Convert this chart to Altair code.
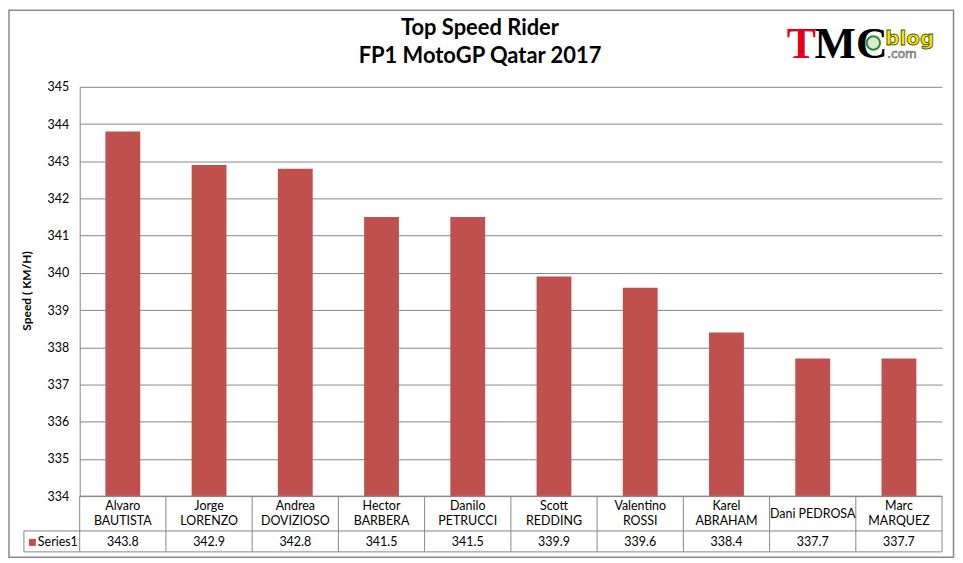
import altair as alt
import pandas as pd

riders = ["Alvaro\nBAUTISTA", "Jorge\nLORENZO", "Andrea\nDOVIZIOSO", "Hector\nBARBERA",
          "Danilo\nPETRUCCI", "Scott\nREDDING", "Valentino\nROSSI", "Karel\nABRAHAM",
          "Dani PEDROSA", "Marc\nMARQUEZ"]
speeds = [343.8, 342.9, 342.8, 341.5, 341.5, 339.9, 339.6, 338.4, 337.7, 337.7]
y_ticks = list(range(334, 346))
series_name = "Series1"
title_lines = ["Top Speed Rider", "FP1 MotoGP Qatar 2017"]
y_title = "Speed ( KM/H)"

W, H = 866, 411
FONT = "Lato"
BAR = "#C0504D"
LINE = "#868686"

df = pd.DataFrame({"rider": riders, "speed": speeds})
one = pd.DataFrame({"k": [0]})

xscale = alt.Scale(paddingInner=0, paddingOuter=0)
base = alt.Chart(df)

bars = base.mark_bar(color=BAR, width=alt.RelativeBandSize(0.404)).encode(
    x=alt.X("rider:N", sort=riders, scale=xscale, axis=None),
    y=alt.Y("speed:Q", scale=alt.Scale(domain=[334, 345], zero=False, nice=False),
            axis=alt.Axis(values=y_ticks, title=None, ticks=False, domainColor=LINE,
                          gridColor=LINE, labelFont=FONT, labelFontSize=12.5,
                          labelColor="#000", labelPadding=11, format="d")),
    y2=alt.datum(334),
)

vlines = base.mark_rule(color=LINE).encode(
    x=alt.X("rider:N", sort=riders, bandPosition=0, axis=None),
    y=alt.value(H), y2=alt.value(467),
)

cat_multi = base.transform_filter("indexof(datum.rider, '\\n') >= 0").mark_text(
    font=FONT, fontSize=12.5, lineBreak="\n", baseline="middle", lineHeight=15.5, color="#000"
).encode(
    x=alt.X("rider:N", sort=riders, axis=None),
    y=alt.value(421),
    text="rider:N",
)
cat_single = base.transform_filter("indexof(datum.rider, '\\n') < 0").mark_text(
    font=FONT, fontSize=12.5, baseline="middle", color="#000"
).encode(
    x=alt.X("rider:N", sort=riders, axis=None),
    y=alt.value(428.5),
    text="rider:N",
)

val_text = base.mark_text(font=FONT, fontSize=12.5, baseline="middle", color="#000").encode(
    x=alt.X("rider:N", sort=riders, axis=None),
    y=alt.value(457),
    text=alt.Text("speed:Q", format=".1f"),
)

o = alt.Chart(one)
rule_right = o.mark_rule(color=LINE).encode(x=alt.value(W), y=alt.value(H), y2=alt.value(467))
rule_leg = o.mark_rule(color=LINE).encode(x=alt.value(-56), y=alt.value(446), y2=alt.value(467))
rule_h1 = o.mark_rule(color=LINE).encode(x=alt.value(-56), x2=alt.value(W), y=alt.value(446))
rule_h2 = o.mark_rule(color=LINE).encode(x=alt.value(-56), x2=alt.value(W), y=alt.value(467))
rule_h0 = o.mark_rule(color=LINE).encode(x=alt.value(0), x2=alt.value(W), y=alt.value(H))

leg_sq = o.mark_square(color=BAR, size=49, opacity=1).encode(x=alt.value(-47.5), y=alt.value(457.5))
leg_txt = o.mark_text(font=FONT, fontSize=12.5, align="left", baseline="middle", color="#000").encode(
    x=alt.value(-42), y=alt.value(457), text=alt.value(series_name))

t1 = o.mark_text(font=FONT, fontSize=22, fontWeight="bold", baseline="middle", color="#000").encode(
    x=alt.value(402), y=alt.value(-59), text=alt.value(title_lines[0]))
t2 = o.mark_text(font=FONT, fontSize=22, fontWeight="bold", baseline="middle", color="#000").encode(
    x=alt.value(402), y=alt.value(-31), text=alt.value(title_lines[1]))
ytitle = o.mark_text(font=FONT, fontSize=12, fontWeight="bold", baseline="middle", angle=270,
                     color="#000").encode(x=alt.value(-53), y=alt.value(205), text=alt.value(y_title))

logo_T = o.mark_text(font="Liberation Serif", fontSize=44, fontWeight="bold", align="left",
                     baseline="alphabetic", color="#E3001B").encode(
    x=alt.value(710), y=alt.value(-29), text=alt.value("T"))
logo_MC = o.mark_text(font="Liberation Serif", fontSize=44, fontWeight="bold", align="left",
                      baseline="alphabetic", color="#000").encode(
    x=alt.value(738), y=alt.value(-29), text=alt.value("MC"))
logo_circle = o.mark_circle(size=180, fill="#D8ECD0", stroke="#2E8B2E", strokeWidth=2,
                            opacity=1).encode(x=alt.value(797), y=alt.value(-44))
logo_blog = o.mark_text(font="DejaVu Sans", fontSize=20, fontWeight="bold", align="left",
                        baseline="alphabetic", fill="#F2E600", stroke="#4A4A00",
                        strokeWidth=0.8).encode(x=alt.value(809), y=alt.value(-42), text=alt.value("blog"))
logo_com = o.mark_text(font="DejaVu Sans", fontSize=12, align="left", baseline="alphabetic",
                       fill="#FFFFFF", stroke="#666666", strokeWidth=0.7).encode(
    x=alt.value(811), y=alt.value(-29), text=alt.value(".com"))

border = o.mark_rect(fillOpacity=0, stroke="#888888", strokeWidth=1.5).encode(
    x=alt.value(-71), x2=alt.value(877.5), y=alt.value(-77), y2=alt.value(472.5))

chart = alt.layer(
    bars, vlines, rule_right, rule_leg, rule_h1, rule_h2, rule_h0,
    cat_multi, cat_single, val_text, leg_sq, leg_txt, t1, t2, ytitle,
    logo_T, logo_MC, logo_circle, logo_blog, logo_com, border,
).properties(
    width=W, height=H,
    autosize=alt.AutoSizeParams(type="none"),
    padding={"left": 72, "top": 78, "right": 13, "bottom": 64},
    background="white",
).configure_view(stroke=None)

chart.save("out.html", embed_options={"renderer": "svg", "actions": False})
